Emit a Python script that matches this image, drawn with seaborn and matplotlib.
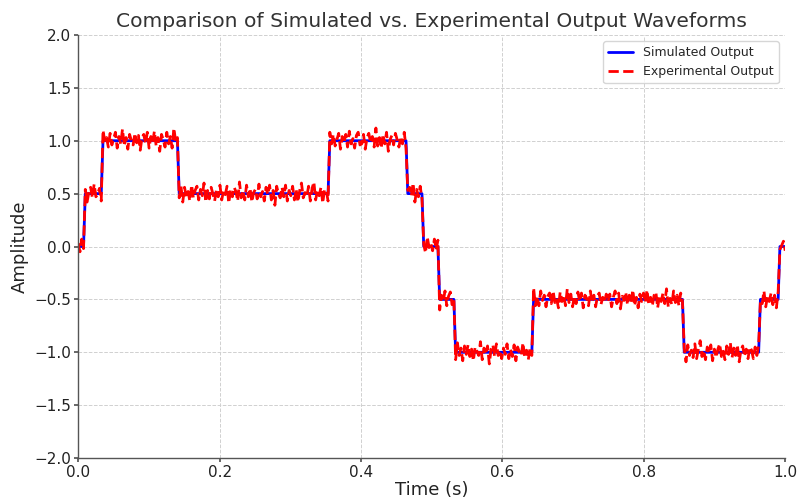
import numpy as np
import pandas as pd
import matplotlib
matplotlib.use("Agg")
import matplotlib.pyplot as plt
import seaborn as sns

# Step breakpoints (s) and levels of the simulated waveform
breaks = [0.008, 0.034, 0.142, 0.355, 0.464, 0.488, 0.509, 0.533, 0.643, 0.855, 0.963, 0.990]
levels = [0.0, 0.5, 1.0, 0.5, 1.0, 0.5, 0.0, -0.5, -1.0, -0.5, -1.0, -0.5, 0.0]

# Measurement deviation of the experimental output, in hundredths (read approximately)
noise_centi = [
    3,-5,7,-2,4,-8,1,6,-4,9,-3,0,5,-7,10,-1,3,-6,7,-4,
    2,8,-7,4,-3,11,-5,3,-8,6,0,-4,7,-2,5,-9,3,6,-3,8,
    -7,4,-2,9,-5,3,-10,6,1,-6,8,-3,4,-7,12,-1,3,-4,7,-8,
    6,-3,2,-7,8,-4,3,7,-6,4,-2,10,-8,3,-5,6,0,-7,4,-3,
    8,-6,3,-1,7,-9,4,-3,6,2,-7,11,-4,3,-6,8,-3,5,-8,1,
    4,-5,9,-3,2,-7,6,-1,8,-6,3,-11,7,0,-4,6,-3,8,-7,3,
    -2,7,-6,4,-8,3,10,-4,1,-3,7,-7,5,11,-6,3,-2,6,-9,4,
    3,-7,8,-3,6,-5,1,7,-8,4,-2,6,-6,9,-3,2,-7,5,8,-4,
    -3,6,-8,3,7,-2,4,-6,12,-5,3,-7,6,-3,8,-10,1,5,-4,7,
    1,-6,4,-3,8,-7,3,6,-2,10,-8,4,-3,7,-5,2,-6,9,-1,3,
    -4,7,-3,6,-10,4,-2,8,-6,3,7,-5,1,-7,9,-3,4,-8,6,-2,
    7,-4,3,-8,5,1,-3,10,-7,4,-2,6,-11,3,7,-4,8,-3,2,-6,
    4,-2,8,-6,3,-4,7,-8,5,0,-3,9,-5,2,-7,4,-3,11,-6,3,
    -6,8,-1,4,-7,3,6,-4,8,-3,1,-8,7,-2,4,-6,10,-3,5,-7,
    3,-4,7,-2,6,-8,4,1,-6,8,-3,4,-7,3,6,-5,2,-3,5,-2,
    5,-7,2,8,-4,6,-9,3,-1,7,-5,4,-3,9,-6,2,-8,5,-2,6,
    -3,9,-5,2,-6,4,7,-8,3,-2,6,-4,10,-7,1,-5,8,-3,4,-6,
    6,-2,4,-9,7,-3,2,-5,8,-6,3,11,-4,2,-7,5,-1,7,-8,3,
    -5,3,8,-4,1,-7,6,-2,9,-5,4,-3,7,-9,2,6,-4,3,-6,5,
    2,-6,5,-3,7,-1,-4,8,-7,3,-2,6,-5,4,-8,7,-3,1,5,-4,
]

t = np.linspace(0.0, 1.0, len(noise_centi))
sim = np.array(levels)[np.searchsorted(breaks, t, side="right")]
exp_out = sim + np.array(noise_centi) / 100.0

df = pd.DataFrame({"t": t, "sim": sim, "exp": exp_out})

sns.set_theme(style="whitegrid")
plt.rcParams["font.family"] = ["DejaVu Sans"]

fig, ax = plt.subplots(figsize=(7.98, 4.99), dpi=100)
sns.lineplot(data=df, x="t", y="sim", color="blue", linewidth=2, label="Simulated Output", ax=ax)
sns.lineplot(data=df, x="t", y="exp", color="red", linewidth=2, linestyle="--", label="Experimental Output", ax=ax)

ax.set_xlim(0, 1)
ax.set_ylim(-2, 2)
ax.set_xticks([0, 0.2, 0.4, 0.6, 0.8, 1.0])
ax.set_yticks(np.arange(-2, 2.01, 0.5))
ax.grid(True, linestyle="--", color="#d0d0d0", linewidth=0.7)
for s in ["top", "right"]:
    ax.spines[s].set_visible(False)
for s in ["left", "bottom"]:
    ax.spines[s].set_color("#555555")
    ax.spines[s].set_linewidth(1.0)
ax.tick_params(axis="both", which="both", length=3, pad=2, color="#555555", labelsize=11, labelcolor="#222222", bottom=True, left=True)
ax.set_title("Comparison of Simulated vs. Experimental Output Waveforms", fontsize=14.6, color="#333333")
ax.set_xlabel("Time (s)", fontsize=13, color="#222222", labelpad=1)
ax.set_ylabel("Amplitude", fontsize=13, color="#222222", labelpad=4)
leg = ax.legend(loc="upper right", fontsize=9, frameon=True)
leg.get_frame().set_edgecolor("#cccccc")

fig.subplots_adjust(left=0.098, right=0.984, top=0.93, bottom=0.082)
fig.savefig("out.png", dpi=100)
